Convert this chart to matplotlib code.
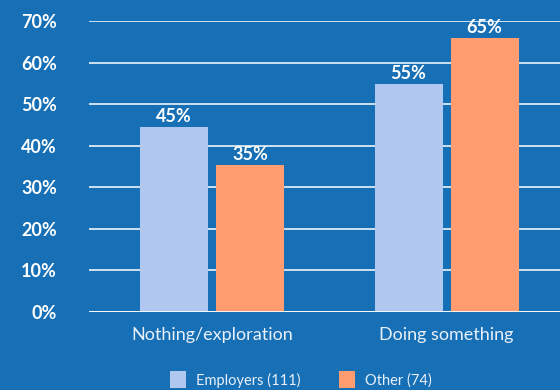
import matplotlib.pyplot as plt
import numpy as np

categories = ['Nothing/exploration', 'Doing something']
series_names = ['Employers (111)', 'Other (74)']
employers = [44.5, 54.9]
other = [35.3, 65.9]
employers_labels = ['45%', '55%']
other_labels = ['35%', '65%']
y_ticks = [0, 10, 20, 30, 40, 50, 60, 70]

BG = '#176fb5'
C_EMP = '#b0c8ef'
C_OTH = '#ff9d71'
TXT = '#e8f0fa'

plt.rcParams['font.family'] = ['Lato', 'DejaVu Sans']

fig = plt.figure(figsize=(5.6, 3.9), dpi=100, facecolor=BG)
ax = fig.add_axes([0.159, 0.2, 0.841, 0.746])
ax.set_facecolor(BG)

x = np.arange(len(categories))
w = 0.29
gap = 0.034
b1 = ax.bar(x - (w + gap) / 2, employers, w, color=C_EMP, label=series_names[0], zorder=3)
b2 = ax.bar(x + (w + gap) / 2, other, w, color=C_OTH, label=series_names[1], zorder=3)

for bars, labels in [(b1, employers_labels), (b2, other_labels)]:
    for rect, lab in zip(bars, labels):
        ax.text(rect.get_x() + rect.get_width() / 2, rect.get_height() + 0.5, lab,
                ha='center', va='bottom', color='white', fontsize=13,
                fontweight='bold', clip_on=False, zorder=4)

ax.set_xlim(-0.525, 1.484)
ax.set_ylim(0, 70)
ax.set_yticks(y_ticks)
ax.set_yticklabels([f'{t}%' for t in y_ticks])
ax.set_xticks(x)
ax.set_xticklabels(categories)
ax.yaxis.grid(True, color='white', linewidth=1.1, zorder=0)
ax.set_axisbelow(True)
for s in ax.spines.values():
    s.set_visible(False)
ax.axhline(0, color='white', linewidth=1.2, zorder=5)

ax.tick_params(axis='y', length=0, pad=23, labelsize=13, labelcolor='white')
for t in ax.get_yticklabels():
    t.set_fontweight('bold')
ax.tick_params(axis='x', length=0, pad=11, labelsize=13, labelcolor=TXT)

leg = fig.legend(loc='center', bbox_to_anchor=(0.537, 0.026), ncol=2, frameon=False,
                 fontsize=10.5, handlelength=1.1, handleheight=1.4, columnspacing=2.6,
                 handletextpad=0.7, borderpad=0)
for t in leg.get_texts():
    t.set_color(TXT)

fig.savefig('out.png', dpi=100, facecolor=BG)
